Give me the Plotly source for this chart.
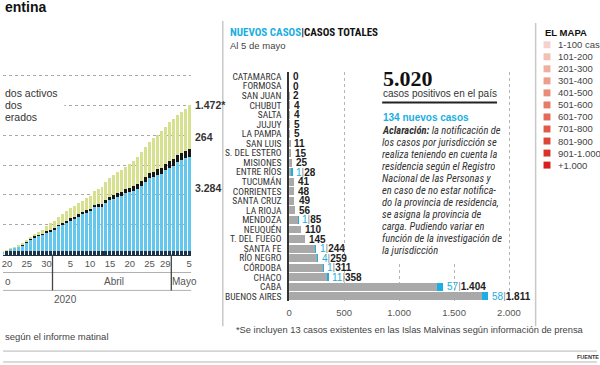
import plotly.graph_objects as go
import pandas as pd

W, H = 600, 365
def PX(x): return x / W
def PY(y): return 1 - y / H

FONT = "Liberation Sans Narrow, Arial Narrow, Roboto Condensed, DejaVu Sans Condensed, sans-serif"
FONT_R = "Liberation Sans, Arial, sans-serif"
SERIF = "Liberation Serif, DejaVu Serif, serif"

BLUE = "#63c7ee"; BLACK = "#161616"; GREEN = "#d6e08f"; GRAY = "#a9a9a9"; CYAN = "#1aaee2"
DARK = "#222222"; MID = "#555555"

# ---------------- left chart data (cumulative, Argentina) ----------------
fechas = list(pd.date_range("2020-03-19", "2020-05-05").strftime("%Y-%m-%d"))
activos = [122, 152, 218, 259, 270, 329, 431, 505, 600, 635, 677, 752, 799,
           849, 970, 1031, 1092, 1168, 1214, 1287, 1348, 1411, 1452,
           1584, 1596, 1579, 1736, 1817, 1855, 1917, 1966, 2057, 2095,
           2145, 2204, 2283, 2421, 2558, 2588, 2656, 2702, 2824, 2911,
           2984, 3090, 3162, 3240, 3284]
fallecidos = [3, 3, 4, 4, 4, 6, 8, 12, 18, 19, 23, 24, 27,
              36, 39, 43, 44, 48, 56, 63, 72, 82, 83,
              90, 97, 102, 111, 122, 129, 132, 136, 147, 152,
              159, 165, 176, 185, 192, 197, 207, 214, 216, 225,
              228, 237, 240, 246, 264]
recuperados = [3, 3, 3, 3, 27, 52, 63, 72, 72, 91, 120, 190, 228,
               248, 256, 279, 315, 338, 358, 365, 375, 401, 440,
               468, 515, 596, 596, 632, 685, 709, 737, 737, 784,
               840, 919, 976, 1001, 1030, 1107, 1140, 1211, 1245, 1292,
               1320, 1354, 1381, 1401, 1472]
dia_vals = ["2020-03-20", "2020-03-25", "2020-03-30", "2020-04-05", "2020-04-10",
            "2020-04-15", "2020-04-20", "2020-04-25", "2020-04-29", "2020-05-05"]
dia_text = ["20", "25", "30", "5", "10", "15", "20", "25", "29", "5"]
leyenda_izq = ["dos activos", "dos", "erados"]   # visible part (cropped on the left)

# ---------------- middle chart data ----------------
provincias = ["CATAMARCA", "FORMOSA", "SAN JUAN", "CHUBUT", "SALTA", "JUJUY", "LA PAMPA",
              "SAN LUIS", "S. DEL ESTERO", "MISIONES", "ENTRE RÍOS", "TUCUMÁN", "CORRIENTES",
              "SANTA CRUZ", "LA RIOJA", "MENDOZA", "NEUQUÉN", "T. DEL FUEGO", "SANTA FE",
              "RÍO NEGRO", "CÓRDOBA", "CHACO", "CABA", "BUENOS AIRES"]
totales = [0, 0, 2, 4, 4, 5, 5, 11, 15, 25, 28, 41, 48, 49, 56, 85, 110, 145, 244, 259,
           311, 358, 1404, 1811]
nuevos = [0, 0, 0, 0, 0, 0, 0, 0, 0, 0, 1, 0, 0, 0, 0, 1, 0, 0, 1, 4, 1, 11, 57, 58]
x2_ticks = [0, 500, 1000, 1500, 2000]
x2_text = ["0", "500", "1.000", "1.500", "2.000"]

parrafo = ["<b>Aclaración:</b> la notificación de", "los casos por jurisdicción se",
           "realiza teniendo en cuenta la", "residencia según el Registro",
           "Nacional de las Personas y", "en caso de no estar notifica-",
           "do la provincia de residencia,", "se asigna la provincia de",
           "carga. Pudiendo variar en", "función de la investigación de", "la jurisdicción"]

# ---------------- map legend ----------------
mapa_labels = ["1-100 casos", "101-200", "201-300", "301-400", "401-500", "501-600",
               "601-700", "701-800", "801-900", "901-1.000", "+1.000"]
mapa_colors = ["#f5d3cc", "#f2c0b5", "#efaea0", "#ec9d8c", "#e98c79", "#e67b67",
               "#e36a56", "#e05846", "#dd4637", "#d93328", "#d5201e"]

def fmt(v):
    return f"{v:,}".replace(",", ".")

fig = go.Figure()
fig.add_trace(go.Bar(x=fechas, y=activos, marker=dict(color=BLUE, line_width=0), xaxis="x", yaxis="y"))
fig.add_trace(go.Bar(x=fechas, y=fallecidos, marker=dict(color=BLACK, line_width=0), xaxis="x", yaxis="y"))
fig.add_trace(go.Bar(x=fechas, y=recuperados, marker=dict(color=GREEN, line_width=0), xaxis="x", yaxis="y"))

previos = [t - n for t, n in zip(totales, nuevos)]
fig.add_trace(go.Bar(y=provincias, x=previos, orientation="h", width=0.82,
                     marker=dict(color=GRAY, line_width=0), xaxis="x2", yaxis="y2"))
fig.add_trace(go.Bar(y=provincias, x=nuevos, orientation="h", width=0.82,
                     marker=dict(color=CYAN, line_width=0), xaxis="x2", yaxis="y2"))

ann = []
def T(text, x, y, size, color=DARK, xanchor="left", yanchor="middle", family=FONT_R, xref="paper", yref="paper", **kw):
    ann.append(dict(text=text, x=x, y=y, xref=xref, yref=yref, xanchor=xanchor, yanchor=yanchor,
                    showarrow=False, font=dict(size=size, color=color, family=family), **kw))

shapes = []
def L(x0, y0, x1, y1, color="#999", width=1, dash=None, layer="above"):
    shapes.append(dict(type="line", xref="paper", yref="paper", x0=PX(x0), y0=PY(y0), x1=PX(x1), y1=PY(y1),
                       line=dict(color=color, width=width, dash=dash), layer=layer))
def R(x0, y0, x1, y1, color, layer="above"):
    shapes.append(dict(type="rect", xref="paper", yref="paper", x0=PX(x0), y0=PY(y0), x1=PX(x1), y1=PY(y1),
                       fillcolor=color, line_width=0, layer=layer))

# ---- left chart decorations ----
T("<b>entina</b>", PX(0), PY(6), 14, "#111")
R(0, 86, 62, 123, "white")
for i, t in enumerate(leyenda_izq):
    T(t, PX(0), PY(93 + 12 * i), 10.5, "#333")
T("<b>" + fmt(recuperados[-1]) + "*</b>", PX(192), recuperados[-1] + fallecidos[-1] + activos[-1], 10.5, "#333", yref="y")
T("<b>" + fmt(fallecidos[-1]) + "</b>", PX(192), 3940, 10.5, "#333", yref="y")
T("<b>" + fmt(activos[-1]) + "</b>", PX(192), 2230, 10.5, "#333", yref="y")
L(0, 273, 190, 273, "#b0b0b0", 1)
L(0, 291, 190, 291, "#b0b0b0", 1)
shapes.append(dict(type="line", xref="x", yref="paper", x0="2020-03-31 12:00", x1="2020-03-31 12:00",
                   y0=PY(255), y1=PY(291), line=dict(color="#444", width=1.3)))
shapes.append(dict(type="line", xref="x", yref="paper", x0="2020-04-30 12:00", x1="2020-04-30 12:00",
                   y0=PY(255), y1=PY(291), line=dict(color="#444", width=1.3)))
T("o", PX(0), PY(282), 10, MID)
T("Abril", PX(112), PY(282), 10, MID, xanchor="center")
T("Mayo", PX(183), PY(282), 10, MID, xanchor="center")
T("2020", PX(49), PY(300), 10, MID)
T("según el informe matinal", PX(0), PY(337), 9.5, "#444")

# ---- panel separators & footer lines ----
L(222, 20, 222, 327, "#c8c8c8", 1.5)
L(538, 22, 538, 327, "#c8c8c8", 1.5)
L(0, 352, 600, 352, "#b5b5b5", 1)
L(0, 363, 600, 363, "#b5b5b5", 1)
T("<b>FUENTE</b>", PX(578), PY(357.5), 5.5, "#333")

# ---- middle chart decorations ----
T(f"<b><span style='color:{CYAN}'>NUEVOS CASOS</span>|CASOS TOTALES</b>", PX(227), PY(32), 11, "#111", family=FONT)
T("Al 5 de mayo", PX(227), PY(45), 9.5, "#444")
for p, t, n in zip(provincias, totales, nuevos):
    if n > 0:
        txt = f"<span style='color:{CYAN}'>{n}</span><span style='color:#888'>|</span><b>{fmt(t)}</b>"
    else:
        txt = f"<b>{fmt(t)}</b>"
    T(txt, t, p, 10, "#222", xref="x2", yref="y2", xshift=3, height=9, borderpad=0)

R(372, 62, 506, 262, "white")
T(f"<b>{fmt(sum(totales))}</b>", PX(382), PY(78), 22, "#111", family=SERIF)
T("casos positivos en el país", PX(382), PY(93), 10, "#333")
L(383, 102, 499, 102, "#222", 2)
T(f"<b>{sum(nuevos)} nuevos casos</b>", PX(382), PY(117), 10, CYAN)
for i, line in enumerate(parrafo):
    T(f"<i>{line}</i>", PX(382), PY(130 + 12.1 * i), 10.5, "#333", family=FONT, height=11, borderpad=0)
T("*Se incluyen 13 casos existentes en las Islas Malvinas según información de prensa",
  PX(233), PY(331), 9.3, "#444")

# ---- map legend ----
T("<b>EL MAPA</b>", PX(545), PY(32), 9.5, "#111")
for i, (lab, col) in enumerate(zip(mapa_labels, mapa_colors)):
    yc = 44 + 12.1 * i
    R(546, yc - 3.5, 553, yc + 3.5, col)
    T(lab, PX(559), PY(yc), 9.5, "#444")

fig.update_layout(
    width=W, height=H, margin=dict(l=0, r=0, t=0, b=0),
    paper_bgcolor="white", plot_bgcolor="rgba(0,0,0,0)",
    barmode="stack", bargap=0.25, showlegend=False, separators=",.",
    font=dict(family=FONT_R, size=10, color="#333"),
    xaxis=dict(domain=[0, PX(190)], type="date", range=["2020-03-19 00:00", "2020-05-05 12:00"],
               tickvals=dia_vals, ticktext=dia_text, ticks="inside", ticklen=4, tickwidth=2.5,
               tickcolor="#1e3446", showline=True, linecolor="#1e3446", linewidth=1,
               tickfont=dict(size=9.5, color=MID), showgrid=False, zeroline=False,
               minor=dict(dtick=86400000, tick0="2020-03-19", ticks="inside", ticklen=4,
                          tickwidth=2.5, tickcolor="#1e3446", showgrid=False),
               anchor="y", layer="above traces"),
    yaxis=dict(domain=[PY(255), PY(60)], range=[0, 6500], dtick=1000, showticklabels=False,
               showgrid=True, gridcolor="#a8a8a8", griddash="dot", gridwidth=1, zeroline=False,
               anchor="x"),
    xaxis2=dict(domain=[PX(289), PX(520)], range=[0, 2080], tickvals=x2_ticks, ticktext=x2_text,
                tickfont=dict(size=9.5, color=MID), showgrid=True, gridcolor="#b5b5b5",
                griddash="dot", zeroline=False, showline=False, anchor="y2", ticklabelstandoff=4),
    yaxis2=dict(domain=[PY(301.8), PY(71.2)], type="category", categoryorder="array",
                categoryarray=provincias, tickmode="array", tickvals=provincias,
                range=[23.5, -0.5], showline=True, linecolor="#333",
                linewidth=1.5, showgrid=False, tickfont=dict(size=9.5, color="#333", family=FONT),
                anchor="x2", ticks="outside", ticklen=3, tickcolor="rgba(0,0,0,0)", ticklabelstandoff=1),
    annotations=ann, shapes=shapes,
)

fig.write_html("out.html", config={"displayModeBar": False},
               post_script="document.body.style.margin='0';")
